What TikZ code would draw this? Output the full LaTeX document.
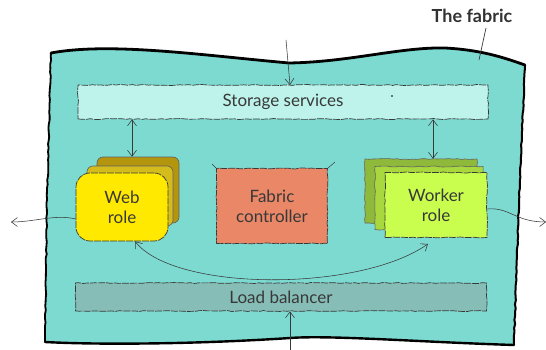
\documentclass[tikz,border=0pt]{standalone}
\usepackage{fontspec}
\setmainfont{Lato}
\usetikzlibrary{arrows.meta,decorations.pathmorphing,calc}

\definecolor{fabric}{HTML}{7DDAD1}
\definecolor{storage}{HTML}{BDF3EA}
\definecolor{balancer}{HTML}{86BDB6}
\definecolor{webA}{HTML}{FFE900}
\definecolor{webB}{HTML}{D3BC1C}
\definecolor{webC}{HTML}{B4950E}
\definecolor{ctrl}{HTML}{E98767}
\definecolor{wrkA}{HTML}{C9FD4E}
\definecolor{wrkB}{HTML}{A8D83E}
\definecolor{wrkC}{HTML}{8EB93A}
\definecolor{ink}{HTML}{383838}

\pgfmathsetseed{11}

\tikzset{
  rough/.style={decorate, decoration={random steps, segment length=4pt, amplitude=0.5pt}},
  label text/.style={align=center, text=ink, font=\fontsize{17}{20}\selectfont},
  boxed/.style={rough, draw=ink, line width=0.7pt, dash pattern=on 7pt off 1pt,
    inner sep=0pt, label text},
  softbox/.style={draw=ink, line width=0.7pt, dash pattern=on 7pt off 1pt,
    inner sep=0pt, label text},
  layer/.style={rough, draw=ink!80, line width=0.6pt, inner sep=0pt},
  softlayer/.style={draw=ink!80, line width=0.6pt, inner sep=0pt, rounded corners=6pt},
  link/.style={draw=ink, line width=0.55pt},
  tip/.style={link, -{Straight Barb[length=6pt,width=9pt]}},
  twotip/.style={link, {Straight Barb[length=6pt,width=9pt]}-{Straight Barb[length=6pt,width=9pt]}},
}

\begin{document}
\begin{tikzpicture}[x=1pt,y=-1pt]
\useasboundingbox (0,0) rectangle (546,350);

% the fabric sheet
\fill[fabric] (51,53) .. controls (110,42) and (200,55) .. (289,63)
  .. controls (350,62) and (400,47) .. (445,48)
  .. controls (485,50) and (510,60) .. (525,65)
  -- (519,200) -- (514,345)
  .. controls (420,342) and (330,335) .. (290,338)
  .. controls (200,344) and (100,345) .. (45,342)
  -- (47,200) -- cycle;
\draw[line width=2.8pt, line cap=round] (51,53) .. controls (110,42) and (200,55) .. (289,63)
  .. controls (350,62) and (400,47) .. (445,48)
  .. controls (485,50) and (510,60) .. (525,65);
\draw[line width=2pt, rough, line join=round] (525,65) -- (519,200) -- (514,345);
\draw[line width=2.4pt, line cap=round] (514,345)
  .. controls (420,342) and (330,335) .. (290,338)
  .. controls (200,344) and (100,345) .. (45,342);
\draw[line width=1.8pt, rough, line join=round] (45,342) -- (47,200) -- (51,53);

% label of the sheet
\node[font=\bfseries\fontsize{18}{20}\selectfont, text=ink!90!black] (title) at (472,16) {The fabric};
\coordinate (titlefoot) at (486,28);
\coordinate (titletip) at (479,60);
\draw[link, line width=0.7pt] (titlefoot) -- (titletip);

% storage and load balancing bands
\node[boxed, fill=storage, minimum width=410pt, minimum height=34pt] (storage) at (283,102) {Storage services};
\fill[black] (392,96) circle (0.8pt);
\node[boxed, fill=balancer, minimum width=411pt, minimum height=28pt] (lb) at (281,297) {Load balancer};

% web role stack
\node[softlayer, fill=webC, minimum width=82pt, minimum height=66pt] (webback) at (138,190) {};
\node[softlayer, fill=webB, minimum width=86pt, minimum height=60pt] (webmid) at (130,196) {};
\node[softbox, fill=webA, minimum width=92pt, minimum height=68pt, rounded corners=14pt] (web) at (122,207) {Web\\role};

% fabric controller
\node[boxed, fill=ctrl, minimum width=111pt, minimum height=75pt] (ctrl) at (272,206) {Fabric\\controller};
\coordinate (ctrlnw) at ($(ctrl.north west)+(-4,-4)$);
\coordinate (ctrlne) at ($(ctrl.north east)+(7,-6)$);
\draw[link, line width=0.5pt] (ctrl.north west) -- (ctrlnw);
\draw[link, line width=0.5pt] (ctrl.north east) -- (ctrlne);

% worker role stack
\node[layer, fill=wrkC, minimum width=112pt, minimum height=64pt] (wrkback) at (421,191) {};
\node[layer, fill=wrkB, minimum width=108pt, minimum height=63pt] (wrkmid) at (429,198) {};
\node[boxed, fill=wrkA, minimum width=102pt, minimum height=65pt] (worker) at (436,205) {Worker\\role};

% connectors
\coordinate (topin) at (286,40);
\coordinate (topend) at (290,85);
\draw[tip] (topin) -- (topend);
\coordinate (sw) at (132,0);
\coordinate (sk) at (433,0);
\draw[twotip] (storage.south -| sw) -- (webback.north -| sw);
\draw[twotip] (storage.south -| sk) -- (wrkback.north -| sk);

\coordinate (leftout) at (11,222);
\coordinate (rightout) at (546,222);
\coordinate (webw) at ($(web.west)+(0,12)$);
\coordinate (wrke) at ($(worker.east)+(0,4)$);
\draw[tip] (webw) .. controls (55,214) and (35,222) .. (leftout);
\draw[tip] (wrke) .. controls (510,207) and (515,222) .. (rightout);

\coordinate (wa) at ($(web.south)+(13,0)$);
\coordinate (wb) at ($(worker.south)+(-8,6)$);
\draw[twotip] (wa) .. controls (175,292) and (360,292) .. (wb);

\coordinate (botin) at (290,352);
\draw[tip] (botin) -- (botin |- lb.south);
\end{tikzpicture}
\end{document}
